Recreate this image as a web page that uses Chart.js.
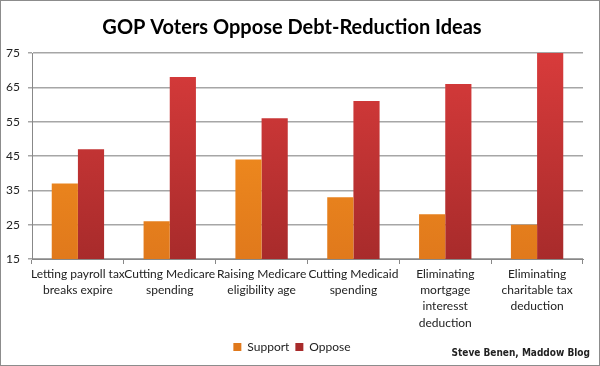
<!DOCTYPE html>
<html>
<head>
<meta charset="utf-8">
<script src="https://cdn.jsdelivr.net/npm/chart.js@4"></script>
<style>
  html, body { margin: 0; padding: 0; background: #fff; }
  #wrap { position: relative; width: 600px; height: 366px; box-sizing: border-box; border: 1px solid #8c8c8c; }
  #credit { position: absolute; right: 9px; bottom: 7px; font: bold 10px "DejaVu Sans Condensed", "Liberation Sans", sans-serif; color: #222; }
</style>
</head>
<body>
<div id="wrap">
  <canvas id="c" width="598" height="364"></canvas>
  <div id="credit">Steve Benen, Maddow Blog</div>
</div>
<script>
// data
const categories = [
  ["Letting payroll tax", "breaks expire"],
  ["Cutting Medicare", "spending"],
  ["Raising Medicare", "eligibility age"],
  ["Cutting Medicaid", "spending"],
  ["Eliminating", "mortgage", "interesst", "deduction"],
  ["Eliminating", "charitable tax", "deduction"]
];
const support = [37, 26, 44, 33, 28, 25];
const oppose = [47, 68, 56, 61, 66, 75];
const yTicks = [15, 25, 35, 45, 55, 65, 75];

function grad(ctx, top, bottom) {
  const area = ctx.chart.chartArea;
  if (!area) return top;
  const g = ctx.chart.ctx.createLinearGradient(0, area.top, 0, area.bottom);
  g.addColorStop(0, top);
  g.addColorStop(1, bottom);
  return g;
}

const font = "'Lato', 'Open Sans', sans-serif";

new Chart(document.getElementById("c"), {
  type: "bar",
  data: {
    labels: categories,
    datasets: [
      {
        label: "Support",
        data: support,
        backgroundColor: ctx => grad(ctx, "#f9951f", "#e0791c"),
        borderWidth: 0
      },
      {
        label: "Oppose",
        data: oppose,
        backgroundColor: ctx => grad(ctx, "#d83b3b", "#a82b2b"),
        borderWidth: 0
      }
    ]
  },
  options: {
    responsive: false,
    animation: false,
    layout: { padding: { left: 0, right: 16, top: 0, bottom: 2 } },
    datasets: { bar: { categoryPercentage: 0.57, barPercentage: 1 } },
    plugins: {
      title: {
        display: true,
        text: "GOP Voters Oppose Debt-Reduction Ideas",
        color: "#000",
        font: { family: font, size: 20, weight: "bold" },
        padding: { top: 15, bottom: 13 }
      },
      legend: {
        position: "bottom",
        labels: {
          boxWidth: 8,
          boxHeight: 8,
          padding: 6,
          color: "#222",
          font: { family: font, size: 12 }
        }
      },
      tooltip: { enabled: false }
    },
    scales: {
      x: {
        grid: { drawOnChartArea: false, drawTicks: true, tickLength: 5, color: "#888", offset: true },
        border: { color: "#888" },
        ticks: { color: "#222", font: { family: font, size: 12, lineHeight: 1.35 }, maxRotation: 0, autoSkip: false, padding: 2 },
        afterFit: s => { s.height = 76; }
      },
      y: {
        min: yTicks[0],
        max: yTicks[yTicks.length - 1],
        afterBuildTicks: s => { s.ticks = yTicks.map(v => ({ value: v })); },
        grid: { color: "#a6a6a6", tickLength: 4, lineWidth: 1.5 },
        border: { color: "#888" },
        ticks: { color: "#222", font: { family: font, size: 12 }, padding: 8 },
        afterFit: s => { s.width = 31; }
      }
    }
  }
});
</script>
</body>
</html>
